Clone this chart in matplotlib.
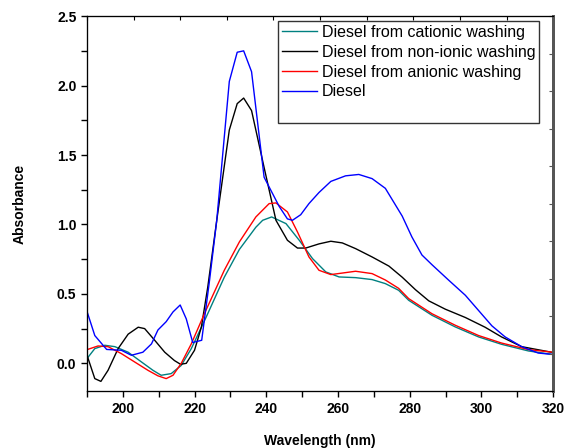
import matplotlib
matplotlib.use("Agg")
import matplotlib.pyplot as plt
from matplotlib.lines import Line2D
from matplotlib.ticker import MultipleLocator

plt.rcParams["font.family"] = ["Liberation Sans", "DejaVu Sans"]

# UV-vis absorbance spectra
cat_x = [190.2, 192.2, 195.0, 197.8, 201.5, 205.2, 208.4, 210.7, 213.5, 216.3,
         219.1, 223.2, 228.3, 232.5, 237.1, 239.0, 241.5, 245.5, 249.2,
         252.9, 256.6, 260.3, 264.9, 269.5, 273.2, 276.9, 279.7, 286.2, 292.7,
         299.2, 305.6, 313.1, 319.5, 320.0]
cat_y = [0.04, 0.106, 0.13, 0.12, 0.08, 0.01, -0.05, -0.086, -0.074, -0.015,
         0.106, 0.33, 0.62, 0.82, 0.98, 1.03, 1.054, 1.006, 0.886,
         0.754, 0.658, 0.622, 0.617, 0.603, 0.574, 0.526, 0.454, 0.346, 0.262,
         0.19, 0.137, 0.089, 0.065, 0.063]

non_x = [190.2, 192.2, 193.9, 195.9, 198.7, 201.5, 204.3, 206.1, 208.9, 211.7,
         214.4, 216.1, 217.7, 220.0, 221.9, 223.7, 226.2, 229.7, 231.9, 233.7,
         235.9, 239.4, 242.7, 245.9, 248.7, 251.0, 254.7, 258.0, 261.2, 264.9,
         269.5, 274.2, 277.9, 281.6, 285.3, 289.9, 295.5, 301.0, 305.6, 311.2,
         319.5, 320.0]
non_y = [0.045, -0.11, -0.13, -0.05, 0.106, 0.21, 0.26, 0.25, 0.166, 0.08,
         0.02, -0.007, 0.0, 0.094, 0.26, 0.55, 1.03, 1.68, 1.87, 1.91,
         1.82, 1.41, 1.03, 0.886, 0.83, 0.83, 0.86, 0.879, 0.867, 0.826,
         0.766, 0.70, 0.62, 0.53, 0.45, 0.39, 0.33, 0.26, 0.19, 0.12,
         0.08, 0.078]

ani_x = [190.2, 193.1, 195.9, 199.6, 203.3, 207.0, 209.8, 212.1, 214.0, 216.3,
         219.1, 222.8, 228.3, 232.5, 237.1, 240.8, 242.7, 245.9, 248.7,
         251.9, 254.7, 258.0, 261.2, 264.9, 269.5, 273.2, 276.9, 279.7, 286.2,
         292.7, 299.2, 305.6, 313.1, 319.5, 320.0]
ani_y = [0.10, 0.125, 0.12, 0.07, 0.01, -0.05, -0.09, -0.11, -0.086, 0.0,
         0.14, 0.36, 0.67, 0.874, 1.054, 1.15, 1.155, 1.09, 0.946,
         0.766, 0.67, 0.639, 0.65, 0.663, 0.646, 0.60, 0.54, 0.466, 0.357,
         0.274, 0.20, 0.146, 0.099, 0.081, 0.08]

die_x = [190.2, 192.2, 195.5, 199.6, 202.4, 205.6, 208.0, 209.8, 212.1, 214.0,
         216.0, 217.7, 219.5, 222.0, 224.2, 226.2, 229.7, 231.9, 233.7, 235.9,
         239.4, 243.6, 245.9, 247.3, 249.6, 251.9, 254.7, 258.0, 262.1, 265.8,
         269.5, 273.2, 277.9, 280.6, 283.4, 286.2, 290.8, 295.5, 299.2,
         302.9, 306.6, 311.2, 315.8, 319.5, 320.0]
die_y = [0.36, 0.20, 0.10, 0.094, 0.058, 0.08, 0.14, 0.24, 0.30, 0.37,
         0.42, 0.32, 0.15, 0.166, 0.60, 1.03, 2.03, 2.24, 2.25, 2.10,
         1.34, 1.13, 1.04, 1.03, 1.07, 1.15, 1.23, 1.31, 1.35, 1.36,
         1.33, 1.26, 1.06, 0.91, 0.78, 0.71, 0.60, 0.49, 0.38,
         0.27, 0.19, 0.12, 0.074, 0.065, 0.064]

fig = plt.figure(figsize=(5.68, 4.48), dpi=100)
ax = fig.add_axes([0.153, 0.127, 0.821, 0.837])

ax.plot(cat_x, cat_y, color="#008080", lw=1.0, label="Diesel from cationic washing")
ax.plot(non_x, non_y, color="black", lw=1.0, label="Diesel from non-ionic washing")
ax.plot(ani_x, ani_y, color="red", lw=1.0, label="Diesel from anionic washing")
ax.plot(die_x, die_y, color="blue", lw=1.0, label="Diesel")

ax.set_xlim(190, 320)
ax.set_ylim(-0.2, 2.5)
ax.xaxis.set_major_locator(MultipleLocator(20))
ax.xaxis.set_minor_locator(MultipleLocator(10))
ax.yaxis.set_major_locator(MultipleLocator(0.5))
ax.yaxis.set_minor_locator(MultipleLocator(0.25))
ax.tick_params(which="both", direction="out", length=4, width=1, top=False, right=False)
ax.tick_params(labelsize=10)
for lab in ax.get_xticklabels() + ax.get_yticklabels():
    lab.set_fontweight("bold")
ax.set_xlabel("Wavelength (nm)", fontsize=10, fontweight="bold", labelpad=13)
ax.set_ylabel("Absorbance", fontsize=10, fontweight="bold", labelpad=22)
ax.spines["right"].set_color("#555555")
ax.spines["right"].set_linewidth(2)

# extra inward ticks on top and right frame (Origin style)
top = ax.twiny()
top.set_xlim(0, 10)
top.xaxis.set_major_locator(MultipleLocator(1))
top.tick_params(direction="in", length=3, labeltop=False)
right = ax.twinx()
right.set_ylim(0, 10)
right.yaxis.set_major_locator(MultipleLocator(1))
right.tick_params(direction="in", length=3, labelright=False, color="#555555")
right.spines["right"].set_color("#555555")
right.spines["right"].set_linewidth(2)

handles, labels = ax.get_legend_handles_labels()
handles.append(Line2D([], [], color="none"))
labels.append(" ")
leg = right.legend(handles, labels, loc="upper right", bbox_to_anchor=(0.97, 0.987),
                   fontsize=11.5, frameon=True, fancybox=False, borderpad=0.25,
                   handlelength=2.2, handletextpad=0.3, labelspacing=0.3,
                   borderaxespad=0)
leg.get_frame().set_edgecolor("black")
leg.get_frame().set_linewidth(1.0)

fig.savefig("out.png", dpi=100)
